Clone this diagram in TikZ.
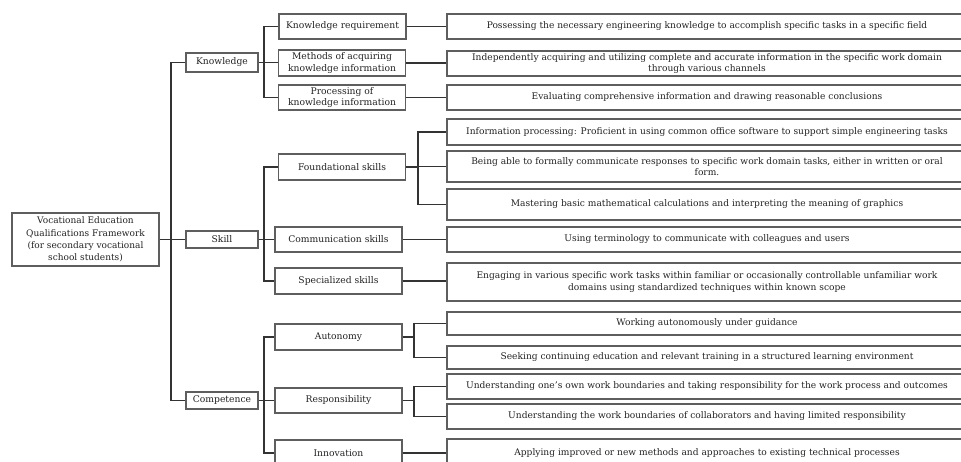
\documentclass[tikz,border=0pt]{standalone}
\usepackage{fontspec}
\setmainfont{DejaVu Serif}
\definecolor{boxgray}{HTML}{5E5E5E}
\definecolor{linegray}{HTML}{333333}
\definecolor{txt}{HTML}{222222}
\begin{document}
\begin{tikzpicture}[x=1pt,y=-1pt,
  box/.style={draw=boxgray, line width=1.1pt, inner sep=1pt, align=center,
    text=txt, font=\fontsize{9}{11.5}\selectfont},
  lone/.style={box, minimum width=72pt, minimum height=18pt, font=\fontsize{9.2}{11.5}\selectfont},
  ltwo/.style={box, minimum width=127pt, minimum height=25pt, font=\fontsize{9.2}{11.5}\selectfont},
  lthree/.style={box, minimum width=520pt, font=\fontsize{9.1}{11.5}\selectfont},
  conn/.style={draw=linegray, line width=1.3pt}]
\useasboundingbox (0,0) rectangle (961,462);
\clip (0,0) rectangle (961,462);
% root
\node[box, minimum width=147pt, minimum height=53pt, font=\fontsize{9}{12.3}\selectfont] (root) at (85.5,239.5)
  {Vocational Education\\Qualifications Framework\\(for secondary vocational\\school students)};
% level 1
\node[lone, minimum height=19pt] (kn) at (222,62.5) {Knowledge};
\node[lone, minimum height=17pt] (sk) at (222,239.5) {Skill};
\node[lone, minimum height=17pt] (co) at (222,400.5) {Competence};
% level 2
\node[ltwo] (kr) at (342.5,26.5) {Knowledge requirement};
\node[ltwo, minimum height=26pt] (me) at (342,63) {Methods of acquiring\\knowledge information};
\node[ltwo] (pr) at (342,97.5) {Processing of\\knowledge information};
\node[ltwo, minimum height=26pt] (fo) at (342,167) {Foundational skills};
\node[ltwo] (cm) at (338.5,239.5) {Communication skills};
\node[ltwo, minimum height=26pt] (sp) at (338.5,281) {Specialized skills};
\node[ltwo, minimum height=26pt] (au) at (338.5,337) {Autonomy};
\node[ltwo] (re) at (338.5,400.5) {Responsibility};
\node[ltwo, minimum height=26pt] (in) at (338.5,453) {Innovation};
% level 3
\node[lthree, minimum height=25pt] (r1) at (707,26.5) {Possessing the necessary engineering knowledge to accomplish specific tasks in a specific field};
\node[lthree, minimum height=25pt] (r2) at (707,63.5) {Independently acquiring and utilizing complete and accurate information in the specific work domain\\through various channels};
\node[lthree, minimum height=25pt] (r3) at (707,97.5) {Evaluating comprehensive information and drawing reasonable conclusions};
\node[lthree, minimum height=26pt] (r4) at (707,132) {Information processing: Proficient in using common office software to support simple engineering tasks};
\node[lthree, minimum height=31pt] (r5) at (707,166.5) {Being able to formally communicate responses to specific work domain tasks, either in written or oral\\form.};
\node[lthree, minimum height=31pt] (r6) at (707,204.5) {Mastering basic mathematical calculations and interpreting the meaning of graphics};
\node[lthree, minimum height=25pt] (r7) at (707,239.5) {Using terminology to communicate with colleagues and users};
\node[lthree, minimum height=38pt] (r8) at (707,282) {Engaging in various specific work tasks within familiar or occasionally controllable unfamiliar work\\domains using standardized techniques within known scope};
\node[lthree, minimum height=23pt] (r9) at (707,323.5) {Working autonomously under guidance};
\node[lthree, minimum height=23pt] (r10) at (707,357.5) {Seeking continuing education and relevant training in a structured learning environment};
\node[lthree, minimum height=25pt] (r11) at (707,386.5) {Understanding one's own work boundaries and taking responsibility for the work process and outcomes};
\node[lthree, minimum height=25pt] (r12) at (707,416.5) {Understanding the work boundaries of collaborators and having limited responsibility};
\node[lthree, minimum height=28pt] (r13) at (707,453) {Applying improved or new methods and approaches to existing technical processes};
% spines
\coordinate (s1) at (171,0);
\coordinate (s2) at (264,0);
\coordinate (s3) at (418,0);
\coordinate (s4) at (414,0);
% root -> level 1
\draw[conn] (root.east) -- (sk.west);
\draw[conn] (kn.west) -- (kn.west -| s1) -- (co.west -| s1) -- (co.west);
% level 1 -> level 2
\draw[conn] (kr.west) -- (kr.west -| s2) -- (pr.west -| s2) -- (pr.west);
\draw[conn] (kn.east) -- (kn.east -| me.west);
\draw[conn] (fo.west) -- (fo.west -| s2) -- (sp.west -| s2) -- (sp.west);
\draw[conn] (sk.east) -- (cm.west);
\draw[conn] (au.west) -- (au.west -| s2) -- (in.west -| s2) -- (in.west);
\draw[conn] (co.east) -- (co.east -| re.west);
% level 2 -> level 3
\draw[conn] (kr.east) -- (r1.west);
\draw[conn] (me.east) -- (me.east -| r2.west);
\draw[conn] (pr.east) -- (r3.west);
\draw[conn] (fo.east) -- (fo.east -| s3);
\draw[conn] (r4.west) -- (r4.west -| s3) -- (r6.west -| s3) -- (r6.west);
\draw[conn] (r5.west) -- (r5.west -| s3);
\draw[conn] (cm.east) -- (r7.west);
\draw[conn] (sp.east) -- (sp.east -| r8.west);
\draw[conn] (au.east) -- (au.east -| s4);
\draw[conn] (r9.west) -- (r9.west -| s4) -- (r10.west -| s4) -- (r10.west);
\draw[conn] (re.east) -- (re.east -| s4);
\draw[conn] (r11.west) -- (r11.west -| s4) -- (r12.west -| s4) -- (r12.west);
\draw[conn] (in.east) -- (r13.west);
\end{tikzpicture}
\end{document}
